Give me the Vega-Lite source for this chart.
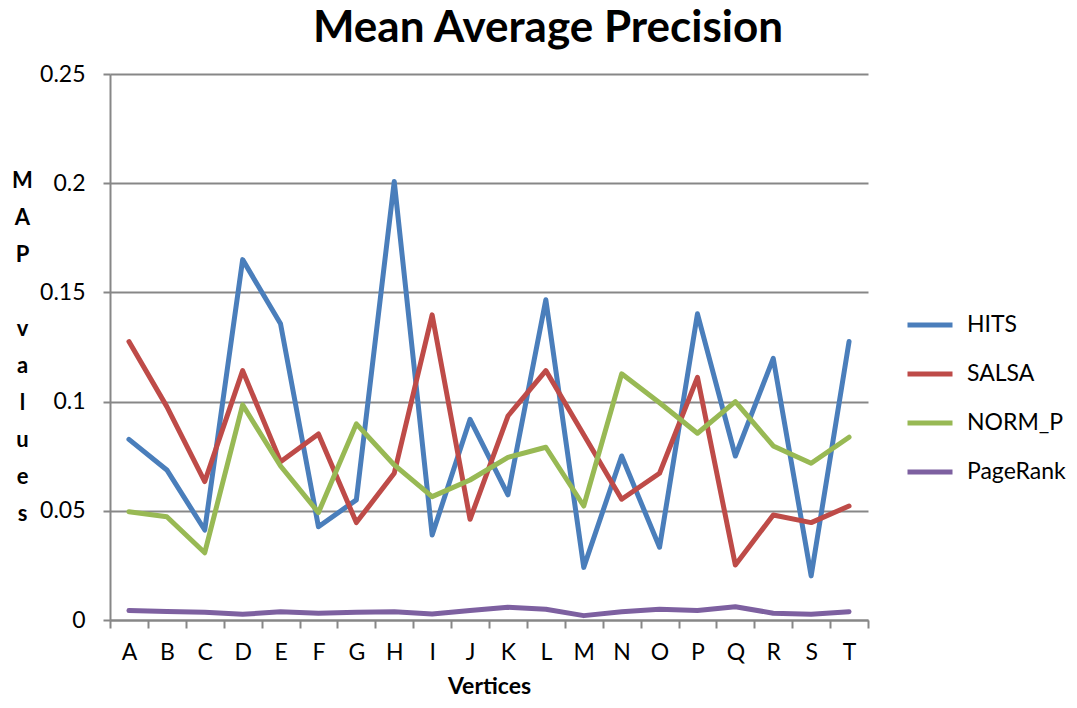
{
  "$schema": "https://vega.github.io/schema/vega-lite/v6.json",
  "width": 758,
  "height": 546,
  "autosize": {"type": "none"},
  "padding": {"left": 110, "top": 74, "right": 209, "bottom": 88},
  "background": "white",
  "title": {
    "text": "Mean Average Precision",
    "font": "Lato",
    "fontSize": 44,
    "fontWeight": "bold",
    "color": "#000000",
    "anchor": "middle",
    "dx": 59,
    "offset": 12
  },
  "config": {
    "view": {"stroke": null},
    "font": "Lato"
  },
  "data": {
    "values": [
      {"vertex": "A", "algorithm": "HITS", "map": 0.0827},
      {"vertex": "B", "algorithm": "HITS", "map": 0.0687},
      {"vertex": "C", "algorithm": "HITS", "map": 0.0412},
      {"vertex": "D", "algorithm": "HITS", "map": 0.165},
      {"vertex": "E", "algorithm": "HITS", "map": 0.1356},
      {"vertex": "F", "algorithm": "HITS", "map": 0.0427},
      {"vertex": "G", "algorithm": "HITS", "map": 0.055},
      {"vertex": "H", "algorithm": "HITS", "map": 0.2008},
      {"vertex": "I", "algorithm": "HITS", "map": 0.0389},
      {"vertex": "J", "algorithm": "HITS", "map": 0.0919},
      {"vertex": "K", "algorithm": "HITS", "map": 0.0573},
      {"vertex": "L", "algorithm": "HITS", "map": 0.1466},
      {"vertex": "M", "algorithm": "HITS", "map": 0.0241},
      {"vertex": "N", "algorithm": "HITS", "map": 0.0751},
      {"vertex": "O", "algorithm": "HITS", "map": 0.0333},
      {"vertex": "P", "algorithm": "HITS", "map": 0.1402},
      {"vertex": "Q", "algorithm": "HITS", "map": 0.0751},
      {"vertex": "R", "algorithm": "HITS", "map": 0.1198},
      {"vertex": "S", "algorithm": "HITS", "map": 0.0202},
      {"vertex": "T", "algorithm": "HITS", "map": 0.1275},
      {"vertex": "A", "algorithm": "SALSA", "map": 0.1275},
      {"vertex": "B", "algorithm": "SALSA", "map": 0.0977},
      {"vertex": "C", "algorithm": "SALSA", "map": 0.0634},
      {"vertex": "D", "algorithm": "SALSA", "map": 0.1142},
      {"vertex": "E", "algorithm": "SALSA", "map": 0.0725},
      {"vertex": "F", "algorithm": "SALSA", "map": 0.0852},
      {"vertex": "G", "algorithm": "SALSA", "map": 0.0446},
      {"vertex": "H", "algorithm": "SALSA", "map": 0.0672},
      {"vertex": "I", "algorithm": "SALSA", "map": 0.1397},
      {"vertex": "J", "algorithm": "SALSA", "map": 0.0461},
      {"vertex": "K", "algorithm": "SALSA", "map": 0.0934},
      {"vertex": "L", "algorithm": "SALSA", "map": 0.1142},
      {"vertex": "M", "algorithm": "SALSA", "map": 0.0848},
      {"vertex": "N", "algorithm": "SALSA", "map": 0.0553},
      {"vertex": "O", "algorithm": "SALSA", "map": 0.0672},
      {"vertex": "P", "algorithm": "SALSA", "map": 0.1111},
      {"vertex": "Q", "algorithm": "SALSA", "map": 0.0252},
      {"vertex": "R", "algorithm": "SALSA", "map": 0.0481},
      {"vertex": "S", "algorithm": "SALSA", "map": 0.0446},
      {"vertex": "T", "algorithm": "SALSA", "map": 0.0522},
      {"vertex": "A", "algorithm": "NORM_P", "map": 0.0496},
      {"vertex": "B", "algorithm": "NORM_P", "map": 0.0473},
      {"vertex": "C", "algorithm": "NORM_P", "map": 0.0308},
      {"vertex": "D", "algorithm": "NORM_P", "map": 0.0985},
      {"vertex": "E", "algorithm": "NORM_P", "map": 0.0705},
      {"vertex": "F", "algorithm": "NORM_P", "map": 0.0492},
      {"vertex": "G", "algorithm": "NORM_P", "map": 0.0898},
      {"vertex": "H", "algorithm": "NORM_P", "map": 0.071},
      {"vertex": "I", "algorithm": "NORM_P", "map": 0.0565},
      {"vertex": "J", "algorithm": "NORM_P", "map": 0.0641},
      {"vertex": "K", "algorithm": "NORM_P", "map": 0.0745},
      {"vertex": "L", "algorithm": "NORM_P", "map": 0.0791},
      {"vertex": "M", "algorithm": "NORM_P", "map": 0.0522},
      {"vertex": "N", "algorithm": "NORM_P", "map": 0.1127},
      {"vertex": "O", "algorithm": "NORM_P", "map": 0.0995},
      {"vertex": "P", "algorithm": "NORM_P", "map": 0.0855},
      {"vertex": "Q", "algorithm": "NORM_P", "map": 0.1},
      {"vertex": "R", "algorithm": "NORM_P", "map": 0.0797},
      {"vertex": "S", "algorithm": "NORM_P", "map": 0.0718},
      {"vertex": "T", "algorithm": "NORM_P", "map": 0.0837},
      {"vertex": "A", "algorithm": "PageRank", "map": 0.0043},
      {"vertex": "B", "algorithm": "PageRank", "map": 0.0039},
      {"vertex": "C", "algorithm": "PageRank", "map": 0.0036},
      {"vertex": "D", "algorithm": "PageRank", "map": 0.0026},
      {"vertex": "E", "algorithm": "PageRank", "map": 0.0038},
      {"vertex": "F", "algorithm": "PageRank", "map": 0.0031},
      {"vertex": "G", "algorithm": "PageRank", "map": 0.0035},
      {"vertex": "H", "algorithm": "PageRank", "map": 0.0038},
      {"vertex": "I", "algorithm": "PageRank", "map": 0.0027},
      {"vertex": "J", "algorithm": "PageRank", "map": 0.0044},
      {"vertex": "K", "algorithm": "PageRank", "map": 0.0058},
      {"vertex": "L", "algorithm": "PageRank", "map": 0.0049},
      {"vertex": "M", "algorithm": "PageRank", "map": 0.002},
      {"vertex": "N", "algorithm": "PageRank", "map": 0.0038},
      {"vertex": "O", "algorithm": "PageRank", "map": 0.0049},
      {"vertex": "P", "algorithm": "PageRank", "map": 0.0043},
      {"vertex": "Q", "algorithm": "PageRank", "map": 0.0061},
      {"vertex": "R", "algorithm": "PageRank", "map": 0.0031},
      {"vertex": "S", "algorithm": "PageRank", "map": 0.0026},
      {"vertex": "T", "algorithm": "PageRank", "map": 0.0038}
    ]
  },
  "mark": {"type": "line", "strokeWidth": 5, "strokeCap": "round", "strokeJoin": "round"},
  "encoding": {
    "x": {
      "field": "vertex",
      "type": "nominal",
      "sort": null,
      "scale": {"type": "band", "paddingInner": 0, "paddingOuter": 0},
      "axis": {
        "title": "Vertices",
        "titleFont": "Lato",
        "titleFontSize": 23,
        "titleFontWeight": "bold",
        "titleColor": "#000000",
        "titlePadding": 11,
        "labelAngle": 0,
        "labelFont": "Lato",
        "labelFontSize": 23,
        "labelColor": "#000000",
        "labelPadding": 13,
        "tickBand": "extent",
        "tickSize": 8,
        "tickColor": "#878787",
        "tickWidth": 2,
        "domainColor": "#878787",
        "domainWidth": 2,
        "grid": false
      }
    },
    "y": {
      "field": "map",
      "type": "quantitative",
      "scale": {"domain": [0, 0.25], "nice": false},
      "axis": {
        "values": [0, 0.05, 0.1, 0.15, 0.2, 0.25],
        "format": ".2~f",
        "title": ["M", "A", "P", "\u200b", "v", "a", "l", "u", "e", "s"],
        "titleAngle": 0,
        "titleFont": "Lato",
        "titleFontSize": 22,
        "titleFontWeight": "bold",
        "titleColor": "#000000",
        "titleLineHeight": 37,
        "titleAlign": "center",
        "titleBaseline": "top",
        "titleX": -88,
        "titleY": 96,
        "labelFont": "Lato",
        "labelFontSize": 23,
        "labelColor": "#000000",
        "labelPadding": 18,
        "tickSize": 7,
        "tickColor": "#878787",
        "tickWidth": 2,
        "domainColor": "#878787",
        "domainWidth": 2,
        "grid": true,
        "gridColor": "#878787",
        "gridWidth": 2
      }
    },
    "color": {
      "field": "algorithm",
      "type": "nominal",
      "scale": {
        "domain": ["HITS", "SALSA", "NORM_P", "PageRank"],
        "range": ["#4a7ebb", "#be4b48", "#98b954", "#7d60a0"]
      },
      "legend": {
        "title": null,
        "orient": "none",
        "legendX": 795,
        "legendY": 226,
        "symbolType": "stroke",
        "symbolSize": 2025,
        "symbolStrokeWidth": 5,
        "labelFont": "Lato",
        "labelFontSize": 23,
        "labelColor": "#000000",
        "labelOffset": 12,
        "rowPadding": 12
      }
    }
  }
}
